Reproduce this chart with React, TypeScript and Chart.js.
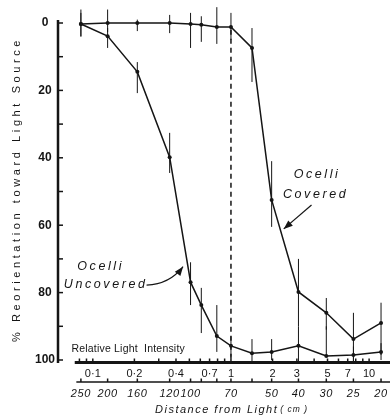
import React, { useEffect, useRef } from "react";
import { Chart, registerables } from "chart.js";
Chart.register(...registerables);

// distance from light (cm) at which each group was tested
const distances = [250, 200, 160, 120, 100, 90, 80, 70, 60, 50, 40, 30, 25, 20];
// relative light intensity at each distance (as placed on the log axis)
const intensity = [0.082, 0.128, 0.21, 0.36, 0.51, 0.61, 0.79, 1, 1.42, 1.97, 3.08, 4.9, 7.7, 12.2];

// % reorientation toward light source
const covered = [0.3, 0, 0, 0, 0.3, 0.5, 1.2, 1.2, 7.4, 52.5, 79.8, 86, 93.8, 89];
const coveredLow = [-3, -4, -1, -2.4, -3, -2, -4.7, -3, 1.5, 41, 70, 81.6, 86, 83];
const coveredHigh = [4, 2.7, 2.4, 3, 7.4, 5.6, 6.2, 5, 17.5, 60.5, 90, 91, 100.5, 98.5];

const uncovered = [0.3, 3.9, 14.5, 39.8, 76.9, 83.7, 92.9, 95.8, 98, 97.6, 95.8, 98.8, 98.5, 97.6];
const uncoveredLow = [-4, 1.5, 11.6, 32.6, 71, 78.6, 83.7, 93, 93.8, 93.8, 90, 90, 96, 95];
const uncoveredHigh = [4, 7.4, 20.8, 44.5, 83.7, 92, 97.6, 99, 100.9, 100, 100.5, 99, 100.5, 100];

const yTicks = [0, 20, 40, 60, 80, 100];
const intensityTickValues = [0.1, 0.2, 0.4, 0.7, 1, 2, 3, 5, 7, 10];
const intensityTickLabels = ["0·1", "0·2", "0·4", "0·7", "1", "2", "3", "5", "7", "10"];
const intensityMinor = [0.08, 0.09, 0.1, 0.2, 0.3, 0.4, 0.5, 0.6, 0.7, 0.8, 0.9, 1, 2, 3, 4, 5, 6, 7, 8, 9, 10];
const distanceTickLabels = [250, 200, 160, 120, 100, 70, 50, 40, 30, 25, 20];

const X_MIN = 0.05598;
const X_MAX = 13.7;
const INK = "#151515";
const FONT = "'Liberation Sans', Arial, sans-serif";

function arrow(ctx: CanvasRenderingContext2D, x1: number, y1: number, x2: number, y2: number) {
  ctx.beginPath();
  ctx.moveTo(x1, y1);
  ctx.lineTo(x2, y2);
  ctx.stroke();
  const a = Math.atan2(y2 - y1, x2 - x1);
  const L = 9, W = 3.5;
  ctx.beginPath();
  ctx.moveTo(x2, y2);
  ctx.lineTo(x2 - L * Math.cos(a) + W * Math.sin(a), y2 - L * Math.sin(a) - W * Math.cos(a));
  ctx.lineTo(x2 - L * Math.cos(a) - W * Math.sin(a), y2 - L * Math.sin(a) + W * Math.cos(a));
  ctx.closePath();
  ctx.fill();
}

const decorPlugin = {
  id: "decor",
  beforeDatasetsDraw(chart: any) {
    const { ctx, scales } = chart;
    const x = scales.x, y = scales.y;
    ctx.save();
    ctx.strokeStyle = INK;
    // dashed line at relative intensity 1
    ctx.lineWidth = 1.5;
    ctx.setLineDash([5, 4]);
    ctx.beginPath();
    ctx.moveTo(x.getPixelForValue(1), y.getPixelForValue(2));
    ctx.lineTo(x.getPixelForValue(1), y.getPixelForValue(100) + 2);
    ctx.stroke();
    ctx.setLineDash([]);
    // error bars
    ctx.lineWidth = 1;
    const bars = (lo: number[], hi: number[]) => {
      for (let i = 0; i < intensity.length; i++) {
        const px = x.getPixelForValue(intensity[i]);
        ctx.beginPath();
        ctx.moveTo(px, y.getPixelForValue(lo[i]));
        ctx.lineTo(px, y.getPixelForValue(hi[i]));
        ctx.stroke();
      }
    };
    bars(coveredLow, coveredHigh);
    bars(uncoveredLow, uncoveredHigh);
    ctx.restore();
  },
  afterDraw(chart: any) {
    const { ctx, scales, chartArea } = chart;
    const x = scales.x, y = scales.y;
    ctx.save();
    ctx.strokeStyle = INK;
    ctx.fillStyle = INK;

    // y axis line and inward ticks
    const ax = chartArea.left;
    ctx.lineWidth = 2.5;
    ctx.beginPath();
    ctx.moveTo(ax, y.getPixelForValue(0) - 3);
    ctx.lineTo(ax, y.getPixelForValue(100) + 3);
    ctx.stroke();
    ctx.lineWidth = 1.5;
    for (let v = 0; v <= 100; v += 10) {
      const py = y.getPixelForValue(v);
      ctx.beginPath();
      ctx.moveTo(ax, py);
      ctx.lineTo(ax + 5, py);
      ctx.stroke();
    }

    // relative light intensity axis
    const yi = y.getPixelForValue(100) + 2.5;
    ctx.lineWidth = 3;
    ctx.beginPath();
    ctx.moveTo(x.getPixelForValue(0.074), yi);
    ctx.lineTo(chartArea.right + 2, yi);
    ctx.stroke();
    ctx.lineWidth = 1.5;
    intensityMinor.forEach((v) => {
      const px = x.getPixelForValue(v);
      ctx.beginPath();
      ctx.moveTo(px, yi);
      ctx.lineTo(px, yi - 4);
      ctx.stroke();
    });
    ctx.font = `11px ${FONT}`;
    ctx.textAlign = "center";
    ctx.textBaseline = "middle";
    intensityTickValues.forEach((v, i) => {
      ctx.fillText(intensityTickLabels[i], x.getPixelForValue(v), yi + 11);
    });
    ctx.font = `10.5px ${FONT}`;
    ctx.textAlign = "left";
    (ctx as any).letterSpacing = "0.2px";
    ctx.fillText("Relative Light  Intensity", x.getPixelForValue(0.07), yi - 13);
    (ctx as any).letterSpacing = "0px";

    // distance axis
    const yd = yi + 19.5;
    ctx.lineWidth = 1.3;
    ctx.beginPath();
    ctx.moveTo(x.getPixelForValue(0.076), yd);
    ctx.lineTo(chartArea.right + 2, yd);
    ctx.stroke();
    ctx.lineWidth = 1.5;
    intensity.forEach((v) => {
      const px = x.getPixelForValue(v);
      ctx.beginPath();
      ctx.moveTo(px, yd);
      ctx.lineTo(px, yd - 3.5);
      ctx.stroke();
    });
    ctx.font = `italic 11px ${FONT}`;
    ctx.textAlign = "center";
    (ctx as any).letterSpacing = "0.6px";
    distanceTickLabels.forEach((d) => {
      const i = distances.indexOf(d);
      ctx.fillText(String(d), x.getPixelForValue(intensity[i]), yd + 12);
    });
    ctx.textAlign = "left";
    ctx.font = `italic 11px ${FONT}`;
    (ctx as any).letterSpacing = "1.5px";
    const tx = 155;
    ctx.fillText("Distance from Light", tx, yd + 28);
    const w = ctx.measureText("Distance from Light").width;
    ctx.font = `italic 8.5px ${FONT}`;
    (ctx as any).letterSpacing = "1px";
    ctx.fillText("( cm )", tx + w + 2, yd + 28);

    // y axis title
    ctx.save();
    ctx.translate(17, (y.getPixelForValue(0) + y.getPixelForValue(100)) / 2 - 2);
    ctx.rotate(-Math.PI / 2);
    ctx.font = `11px ${FONT}`;
    (ctx as any).letterSpacing = "3.6px";
    ctx.textAlign = "center";
    ctx.fillText("% Reorientation toward Light Source", 0, 0);
    ctx.restore();

    // annotations
    ctx.font = `italic 12.5px ${FONT}`;
    (ctx as any).letterSpacing = "2.6px";
    ctx.textAlign = "center";
    ctx.fillText("Ocelli", x.getPixelForValue(4.2), y.getPixelForValue(45.1));
    ctx.fillText("Covered", x.getPixelForValue(4.1), y.getPixelForValue(51.0));
    ctx.fillText("Ocelli", x.getPixelForValue(0.114), y.getPixelForValue(72.4));
    ctx.fillText("Uncovered", x.getPixelForValue(0.124), y.getPixelForValue(77.7));
    (ctx as any).letterSpacing = "0px";
    ctx.lineWidth = 1.2;
    arrow(ctx, x.getPixelForValue(3.83), y.getPixelForValue(54), x.getPixelForValue(2.41), y.getPixelForValue(61.1));
    // curved arrow for uncovered
    const sx = x.getPixelForValue(0.245), sy = y.getPixelForValue(77.8);
    const ex = x.getPixelForValue(0.45), ey = y.getPixelForValue(72.3);
    const cx = x.getPixelForValue(0.36), cy = y.getPixelForValue(77.5);
    ctx.beginPath();
    ctx.moveTo(sx, sy);
    ctx.quadraticCurveTo(cx, cy, ex, ey);
    ctx.stroke();
    const a = Math.atan2(ey - cy, ex - cx);
    const L = 9, W = 3.5;
    ctx.beginPath();
    ctx.moveTo(ex, ey);
    ctx.lineTo(ex - L * Math.cos(a) + W * Math.sin(a), ey - L * Math.sin(a) - W * Math.cos(a));
    ctx.lineTo(ex - L * Math.cos(a) - W * Math.sin(a), ey - L * Math.sin(a) + W * Math.cos(a));
    ctx.closePath();
    ctx.fill();
    ctx.restore();
  },
};

export default function App() {
  const ref = useRef<HTMLCanvasElement>(null);
  useEffect(() => {
    document.body.style.margin = "0";
    const ds = (vals: number[], label: string) => ({
      label,
      data: vals.map((v, i) => ({ x: intensity[i], y: v })),
      borderColor: INK,
      backgroundColor: INK,
      borderWidth: 1.5,
      pointRadius: 2,
      pointBackgroundColor: INK,
      pointBorderWidth: 0,
      tension: 0,
      clip: false as any,
    });
    const chart = new Chart(ref.current!, {
      type: "line",
      data: {
        datasets: [ds(covered, "Ocelli Covered"), ds(uncovered, "Ocelli Uncovered")],
      },
      options: {
        animation: false,
        responsive: false,
        devicePixelRatio: 1,
        layout: { padding: { top: 23, right: 2, bottom: 60, left: 0 } },
        plugins: { legend: { display: false }, tooltip: { enabled: false } },
        scales: {
          x: { type: "logarithmic", min: X_MIN, max: X_MAX, bounds: "data", display: false },
          y: {
            type: "linear",
            reverse: true,
            min: 0,
            max: 100,
            bounds: "data",
            afterFit: (s: any) => {
              s.width = 58;
            },
            afterBuildTicks: (s: any) => {
              s.ticks = yTicks.map((v) => ({ value: v }));
            },
            grid: { display: false, drawTicks: false },
            border: { display: false },
            ticks: {
              padding: 3,
              crossAlign: "center",
              color: INK,
              font: { family: "'Liberation Sans', Arial, sans-serif", size: 12, weight: "bold" },
            },
          },
        },
      },
      plugins: [decorPlugin],
    } as any);
    return () => chart.destroy();
  }, []);
  return <canvas ref={ref} width={392} height={420} style={{ display: "block" }} />;
}
